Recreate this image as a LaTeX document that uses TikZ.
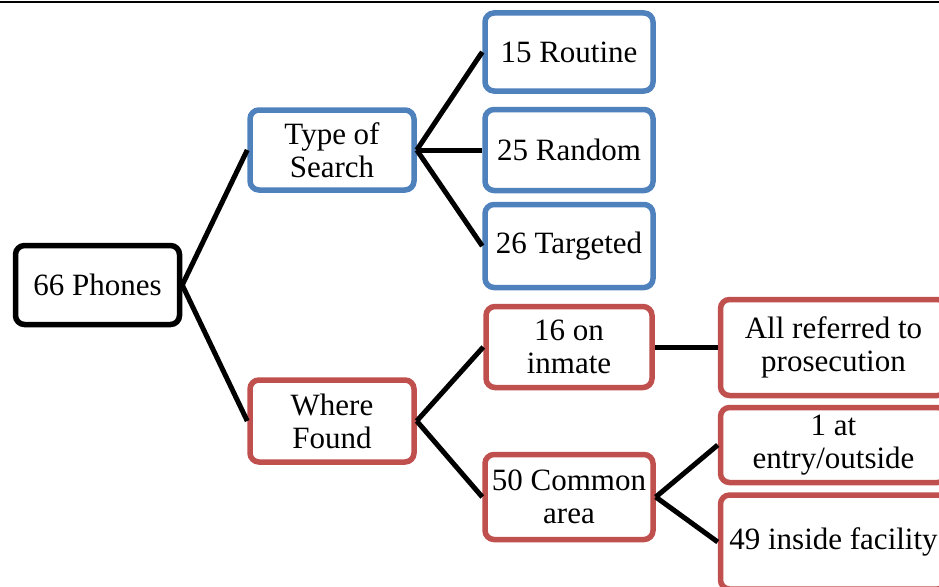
\documentclass[tikz,border=0pt]{standalone}
\usepackage{fontspec}
\setmainfont{Liberation Serif}
\definecolor{bluebox}{HTML}{4F81BD}
\definecolor{redbox}{HTML}{C0504D}
\begin{document}
\begin{tikzpicture}[x=1pt,y=-1pt,
  box/.style={draw, rounded corners=9pt, line width=5.5pt, align=center, inner sep=0pt,
    font=\fontsize{31}{33}\selectfont, fill=white},
  bbox/.style={box, draw=bluebox},
  rbox/.style={box, draw=redbox},
  link/.style={line width=5pt, black}]
\useasboundingbox (0,0) rectangle (939,586);
\draw[line width=2.5pt] (0,2) -- (939,2);
\node[box, draw=black, minimum width=164pt, minimum height=79pt] (phones) at (97.5,285) {66 Phones};
\node[bbox, minimum width=164pt, minimum height=80pt] (type) at (332,150) {Type of\\Search};
\node[rbox, minimum width=164pt, minimum height=82pt] (where) at (332,421) {Where\\Found};
\node[bbox, minimum width=168pt, minimum height=78pt] (routine) at (569,52) {15 Routine};
\node[bbox, minimum width=168pt, minimum height=81pt] (random) at (569,150) {25 Random};
\node[bbox, minimum width=168pt, minimum height=83pt] (targeted) at (569,246) {26 Targeted};
\node[rbox, minimum width=166pt, minimum height=81pt] (inmate) at (569,347) {16 on\\inmate};
\node[rbox, minimum width=168pt, minimum height=85pt] (common) at (569,497) {50 Common\\area};
\node[rbox, minimum width=226pt, minimum height=96pt] (referred) at (833.5,347.5) {All referred to\\prosecution};
\node[rbox, minimum width=226pt, minimum height=75pt] (entry) at (833.5,445) {1 at\\entry/outside};
\node[rbox, minimum width=226pt, minimum height=94pt] (inside) at (833.5,542) {49 inside facility};
\draw[link] (phones.east) -- (type.west);
\draw[link] (phones.east) -- (where.west);
\draw[link] (type.east) -- (routine.west);
\draw[link] (type.east) -- (random.west);
\draw[link] (type.east) -- (targeted.west);
\draw[link] (where.east) -- (inmate.west);
\draw[link] (where.east) -- (common.west);
\draw[link] (inmate.east) -- (referred.west |- inmate.east);
\draw[link] (common.east) -- (entry.west);
\draw[link] (common.east) -- (inside.west);
\end{tikzpicture}
\end{document}
